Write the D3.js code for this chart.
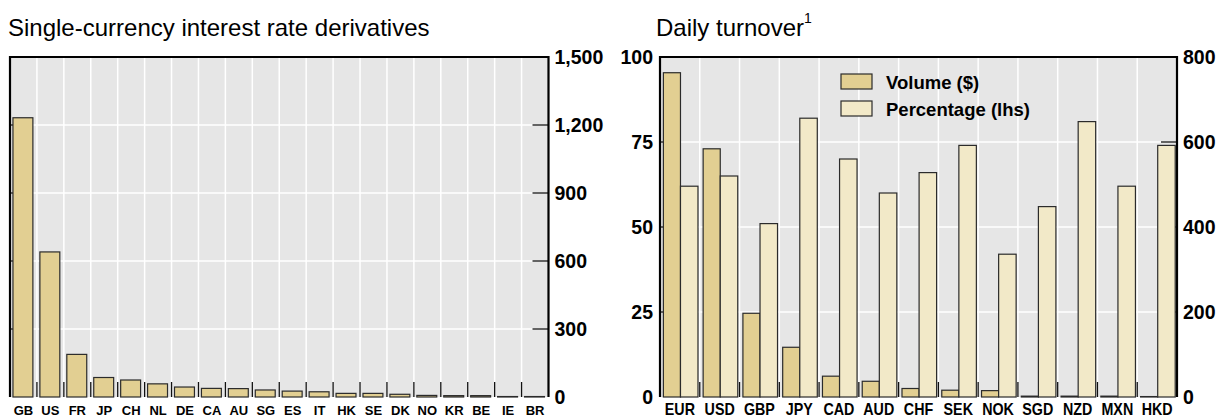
<!DOCTYPE html>
<html>
  <head>
    <meta http-equiv="content-type" content="text/html; charset=utf-8" />
    <title>Interest rate derivatives</title>
    <script type="text/javascript" src="https://cdn.jsdelivr.net/npm/d3@7"></script>
    <style type="text/css">
      body { margin: 0; background: #fff; }
      svg text { font-family: "Liberation Sans", Arial, sans-serif; fill: #000; }
    </style>
  </head>
  <body>
    <script type="text/javascript">
// left panel: outstanding by country
var countries = ["GB","US","FR","JP","CH","NL","DE","CA","AU","SG","ES","IT","HK","SE","DK","NO","KR","BE","IE","BR"];
var countryValues = [1232, 640, 188, 86, 75, 58, 44, 38, 37, 31, 26, 23, 16, 16, 12, 7, 6, 6, 2, 2];
var leftTicks = [0, 300, 600, 900, 1200, 1500];

// right panel: daily turnover by currency
var currencies = ["EUR","USD","GBP","JPY","CAD","AUD","CHF","SEK","NOK","SGD","NZD","MXN","HKD"];
var volume = [763, 584, 197, 117, 49, 37, 20, 16, 15, 2, 2, 2, 1];        // rhs
var percentage = [62, 65, 51, 82, 70, 60, 66, 74, 42, 56, 81, 62, 74];    // lhs
var pctTicks = [0, 25, 50, 75, 100];
var volTicks = [0, 200, 400, 600, 800];

// note: "top" is taken by window.top, so plotTop
var W = 1217, H = 417,
    plotTop = 57, plotBottom = 397,
    bg = "#e6e6e6",
    darkFill = "#e2cf92",
    lightFill = "#f2e9c8",
    barStroke = "#2b2b2b";

var svg = d3.select("body").append("svg")
  .attr("width", W)
  .attr("height", H);

function panelBase(g, x0, x1, bandScale, yScale, ticks) {
  g.append("rect")
    .attr("x", x0).attr("y", plotTop)
    .attr("width", x1 - x0).attr("height", plotBottom - plotTop)
    .attr("fill", bg);

  // white grid
  g.selectAll(".hgrid").data(ticks.slice(1, -1)).enter().append("line")
    .attr("x1", x0).attr("x2", x1)
    .attr("y1", function(d) { return yScale(d); })
    .attr("y2", function(d) { return yScale(d); })
    .attr("stroke", "#fff").attr("stroke-width", 1.5);
  g.selectAll(".vgrid").data(bandScale.domain().slice(1)).enter().append("line")
    .attr("x1", function(d) { return bandScale(d); })
    .attr("x2", function(d) { return bandScale(d); })
    .attr("y1", plotTop).attr("y2", plotBottom)
    .attr("stroke", "#fff").attr("stroke-width", 1.5);

  // inward ticks both sides
  g.selectAll(".ltick").data(ticks.slice(1, -1)).enter().append("line")
    .attr("x1", x0).attr("x2", x0 + 16)
    .attr("y1", function(d) { return yScale(d); })
    .attr("y2", function(d) { return yScale(d); })
    .attr("stroke", "#111").attr("stroke-width", 1.3);
  g.selectAll(".rtick").data(ticks.slice(1, -1)).enter().append("line")
    .attr("x1", x1 - 16).attr("x2", x1)
    .attr("y1", function(d) { return yScale(d); })
    .attr("y2", function(d) { return yScale(d); })
    .attr("stroke", "#111").attr("stroke-width", 1.3);

  // category ticks at the bottom
  g.selectAll(".ctick").data(bandScale.domain().slice(1)).enter().append("line")
    .attr("x1", function(d) { return bandScale(d); })
    .attr("x2", function(d) { return bandScale(d); })
    .attr("y1", plotBottom - 15).attr("y2", plotBottom)
    .attr("stroke", "#111").attr("stroke-width", 1.3);
}

function panelFrame(g, x0, x1) {
  g.append("path")
    .attr("d", "M" + x0 + "," + plotBottom + "V" + plotTop + "H" + x1 + "V" + plotBottom)
    .attr("fill", "none").attr("stroke", "#000").attr("stroke-width", 2.2);
}

// ---------- left panel ----------
var L0 = 10, L1 = 548.5;
var xL = d3.scaleBand().domain(countries).range([L0, L1]);
var yL = d3.scaleLinear().domain([0, 1500]).range([plotBottom, plotTop]);
var gL = svg.append("g");
panelBase(gL, L0, L1, xL, yL, leftTicks);

var bwL = xL.bandwidth();
gL.selectAll(".bar").data(countries).enter().append("rect")
  .attr("x", function(d) { return xL(d) + bwL * 0.11; })
  .attr("width", bwL * 0.74)
  .attr("y", function(d, i) { return yL(countryValues[i]); })
  .attr("height", function(d, i) { return plotBottom - yL(countryValues[i]); })
  .attr("fill", darkFill).attr("stroke", barStroke).attr("stroke-width", 1.2);

panelFrame(gL, L0, L1);

gL.selectAll(".ylab").data(leftTicks).enter().append("text")
  .attr("x", L1 + 6)
  .attr("y", function(d) { return yL(d); })
  .attr("dy", "0.36em")
  .attr("font-size", 19.5).attr("font-weight", "bold")
  .text(function(d) { return d3.format(",")(d); });

gL.selectAll(".xlab").data(countries).enter().append("text")
  .attr("x", function(d) { return xL(d) + bwL / 2; })
  .attr("y", 414.5)
  .attr("text-anchor", "middle")
  .attr("font-size", 13).attr("font-weight", "bold")
  .text(function(d) { return d; });

svg.append("text")
  .attr("x", 8).attr("y", 36)
  .attr("font-size", 24)
  .text("Single-currency interest rate derivatives");

// ---------- right panel ----------
var R0 = 660, R1 = 1177;
var xR = d3.scaleBand().domain(currencies).range([R0, R1]);
var yPct = d3.scaleLinear().domain([0, 100]).range([plotBottom, plotTop]);
var yVol = d3.scaleLinear().domain([0, 800]).range([plotBottom, plotTop]);
var gR = svg.append("g");
panelBase(gR, R0, R1, xR, yPct, pctTicks);

var bwR = xR.bandwidth();
gR.selectAll(".vol").data(currencies).enter().append("rect")
  .attr("x", function(d) { return xR(d) + bwR * 0.085; })
  .attr("width", bwR * 0.43)
  .attr("y", function(d, i) { return yVol(volume[i]); })
  .attr("height", function(d, i) { return plotBottom - yVol(volume[i]); })
  .attr("fill", darkFill).attr("stroke", barStroke).attr("stroke-width", 1.2);
gR.selectAll(".pct").data(currencies).enter().append("rect")
  .attr("x", function(d) { return xR(d) + bwR * 0.515; })
  .attr("width", bwR * 0.44)
  .attr("y", function(d, i) { return yPct(percentage[i]); })
  .attr("height", function(d, i) { return plotBottom - yPct(percentage[i]); })
  .attr("fill", lightFill).attr("stroke", barStroke).attr("stroke-width", 1.2);

panelFrame(gR, R0, R1);

gR.selectAll(".ylabL").data(pctTicks).enter().append("text")
  .attr("x", R0 - 7)
  .attr("y", function(d) { return yPct(d); })
  .attr("dy", "0.36em")
  .attr("text-anchor", "end")
  .attr("font-size", 19.5).attr("font-weight", "bold")
  .text(function(d) { return d; });
gR.selectAll(".ylabR").data(volTicks).enter().append("text")
  .attr("x", R1 + 6)
  .attr("y", function(d) { return yVol(d); })
  .attr("dy", "0.36em")
  .attr("font-size", 19.5).attr("font-weight", "bold")
  .text(function(d) { return d; });

gR.selectAll(".xlab").data(currencies).enter().append("text")
  .attr("x", function(d) { return xR(d) + bwR / 2; })
  .attr("y", 414.5)
  .attr("text-anchor", "middle")
  .attr("font-size", 17).attr("font-weight", "bold")
  .text(function(d) { return d; })
  .each(function() {
    // narrow labels, like the original
    var len = this.getComputedTextLength();
    d3.select(this).attr("textLength", len * 0.84).attr("lengthAdjust", "spacingAndGlyphs");
  });

var title = svg.append("text")
  .attr("x", 656).attr("y", 36)
  .attr("font-size", 24);
title.append("tspan").text("Daily turnover");
title.append("tspan").attr("font-size", 14).attr("dy", -13).text("1");

// legend
var legendItems = [
  { label: "Volume ($)", fill: darkFill },
  { label: "Percentage (lhs)", fill: lightFill }
];
var lg = gR.selectAll(".legend").data(legendItems).enter().append("g")
  .attr("transform", function(d, i) { return "translate(841," + (74 + i * 27) + ")"; });
lg.append("rect")
  .attr("width", 31).attr("height", 15)
  .attr("fill", function(d) { return d.fill; })
  .attr("stroke", barStroke).attr("stroke-width", 1.2);
lg.append("text")
  .attr("x", 45).attr("y", 14.5)
  .attr("font-size", 18.5).attr("font-weight", "bold")
  .text(function(d) { return d.label; });
    </script>
  </body>
</html>
